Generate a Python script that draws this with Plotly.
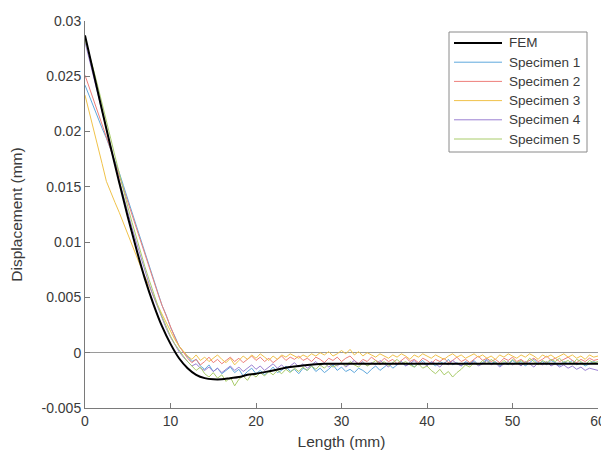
import plotly.graph_objects as go

# ---------------- data ----------------
length_mm = [
    0.0, 0.5, 1.0, 1.5, 2.0, 2.5, 3.0, 3.5, 4.0, 4.5,
    5.0, 5.5, 6.0, 6.5, 7.0, 7.5, 8.0, 8.5, 9.0, 9.5,
    10.0, 10.5, 11.0, 11.5, 12.0, 12.5, 13.0, 13.5, 14.0, 14.5,
    15.0, 15.5, 16.0, 16.5, 17.0, 17.5, 18.0, 18.5, 19.0, 19.5,
    20.0, 20.5, 21.0, 21.5, 22.0, 22.5, 23.0, 23.5, 24.0, 24.5,
    25.0, 25.5, 26.0, 26.5, 27.0, 27.5, 28.0, 28.5, 29.0, 29.5,
    30.0, 30.5, 31.0, 31.5, 32.0, 32.5, 33.0, 33.5, 34.0, 34.5,
    35.0, 35.5, 36.0, 36.5, 37.0, 37.5, 38.0, 38.5, 39.0, 39.5,
    40.0, 40.5, 41.0, 41.5, 42.0, 42.5, 43.0, 43.5, 44.0, 44.5,
    45.0, 45.5, 46.0, 46.5, 47.0, 47.5, 48.0, 48.5, 49.0, 49.5,
    50.0, 50.5, 51.0, 51.5, 52.0, 52.5, 53.0, 53.5, 54.0, 54.5,
    55.0, 55.5, 56.0, 56.5, 57.0, 57.5, 58.0, 58.5, 59.0, 59.5,
    60.0,
]

fem_x = [0, 1, 2, 3, 4, 5, 6, 7, 8, 9, 10, 11, 12, 13, 14, 15, 16, 17, 18, 19,
         20, 22, 24, 26, 28, 30, 35, 40, 45, 50, 55, 60]
fem_y = [.0287, .0253, .0219, .0186, .0154, .0123, .0094, .0067, .0044, .0024,
         .0008, -.0005, -.0014, -.0020, -.0023, -.0024, -.0024, -.0023, -.0022, -.0020,
         -.0019, -.0016, -.0013, -.0011, -.0010, -.0010, -.0010, -.0010, -.0010, -.0010,
         -.0010, -.0010]

specimen_1 = [
    .0242, .0232, .0223, .0213, .0203, .0194, .0184, .0174, .0163, .0151,
    .0139, .0126, .0115, .0102, .0090, .0079, .0066, .0055, .0043, .0034,
    .0023, .0015, .0006, .0001, -.0004, -.0008, -.0006, -.0012, -.0015, -.0011,
    -.0017, -.0014, -.0019, -.0016, -.0013, -.0018, -.0015, -.0021, -.0017, -.0014,
    -.0019, -.0016, -.0020, -.0017, -.0013, -.0018, -.0016, -.0012, -.0017, -.0015,
    -.0019, -.0014, -.0016, -.0012, -.0017, -.0014, -.0018, -.0015, -.0011, -.0016,
    -.0013, -.0017, -.0015, -.0018, -.0014, -.0016, -.0019, -.0015, -.0012, -.0016,
    -.0013, -.0010, -.0014, -.0011, -.0008, -.0012, -.0009, -.0013, -.0010, -.0007,
    -.0011, -.0009, -.0012, -.0008, -.0010, -.0006, -.0011, -.0009, -.0012, -.0008,
    -.0010, -.0007, -.0011, -.0009, -.0006, -.0010, -.0008, -.0012, -.0009, -.0011,
    -.0007, -.0010, -.0008, -.0012, -.0009, -.0006, -.0010, -.0008, -.0011, -.0007,
    -.0009, -.0012, -.0008, -.0010, -.0007, -.0011, -.0009, -.0012, -.0010, -.0008,
    -.0010,
]

specimen_2 = [
    .0251, .0240, .0229, .0218, .0207, .0196, .0184, .0172, .0160, .0149,
    .0137, .0125, .0113, .0101, .0089, .0077, .0065, .0054, .0043, .0033,
    .0023, .0014, .0006, .0000, -.0005, -.0009, -.0006, -.0011, -.0008, -.0004,
    -.0009, -.0006, -.0010, -.0007, -.0004, -.0008, -.0005, -.0009, -.0006, -.0003,
    -.0007, -.0004, -.0008, -.0005, -.0009, -.0006, -.0003, -.0007, -.0004, -.0006,
    -.0003, -.0007, -.0005, -.0008, -.0004, -.0006, -.0009, -.0005, -.0007, -.0004,
    -.0008, -.0005, -.0003, -.0007, -.0010, -.0006, -.0008, -.0004, -.0007, -.0009,
    -.0005, -.0008, -.0006, -.0010, -.0007, -.0004, -.0008, -.0006, -.0009, -.0005,
    -.0007, -.0010, -.0006, -.0008, -.0005, -.0009, -.0007, -.0004, -.0008, -.0006,
    -.0009, -.0006, -.0003, -.0007, -.0005, -.0008, -.0006, -.0009, -.0005, -.0007,
    -.0004, -.0008, -.0006, -.0009, -.0007, -.0005, -.0008, -.0006, -.0003, -.0007,
    -.0005, -.0008, -.0006, -.0004, -.0007, -.0009, -.0006, -.0008, -.0005, -.0007,
    -.0006,
]

specimen_3 = [
    .0233, .0218, .0202, .0187, .0171, .0155, .0145, .0136, .0127, .0117,
    .0107, .0097, .0088, .0078, .0069, .0060, .0051, .0043, .0035, .0027,
    .0019, .0012, .0006, .0001, -.0003, -.0006, -.0002, -.0007, -.0004, -.0008,
    -.0005, -.0002, -.0006, -.0009, -.0005, -.0011, -.0007, -.0003, -.0006, -.0002,
    -.0005, -.0001, -.0004, -.0007, -.0003, -.0006, -.0002, -.0004, -.0001, -.0003,
    -.0005, -.0002, -.0004, -.0001, -.0003, .0000, -.0002, .0001, -.0003, -.0001,
    .0002, -.0001, .0003, -.0002, .0001, -.0003, .0000, -.0002, -.0004, -.0001,
    -.0003, -.0005, -.0002, -.0004, -.0001, -.0003, -.0006, -.0002, -.0004, -.0001,
    -.0003, -.0005, -.0002, -.0004, -.0006, -.0003, -.0001, -.0004, -.0002, -.0005,
    -.0003, -.0001, -.0004, -.0002, -.0005, -.0003, -.0006, -.0002, -.0004, -.0001,
    -.0003, -.0005, -.0002, -.0004, -.0001, -.0003, -.0006, -.0002, -.0004, -.0002,
    -.0005, -.0003, -.0001, -.0004, -.0002, -.0005, -.0003, -.0006, -.0002, -.0004,
    -.0003,
]

specimen_4 = [
    .0281, .0265, .0249, .0233, .0217, .0201, .0186, .0171, .0156, .0141,
    .0127, .0113, .0100, .0087, .0074, .0062, .0051, .0041, .0031, .0022,
    .0014, .0007, .0001, -.0004, -.0008, -.0012, -.0010, -.0014, -.0016, -.0013,
    -.0017, -.0014, -.0018, -.0015, -.0012, -.0016, -.0013, -.0017, -.0014, -.0011,
    -.0015, -.0012, -.0016, -.0013, -.0010, -.0014, -.0011, -.0015, -.0012, -.0009,
    -.0013, -.0010, -.0014, -.0011, -.0008, -.0012, -.0009, -.0013, -.0010, -.0012,
    -.0009, -.0013, -.0010, -.0007, -.0011, -.0008, -.0012, -.0009, -.0011, -.0007,
    -.0010, -.0013, -.0009, -.0011, -.0008, -.0012, -.0010, -.0007, -.0011, -.0009,
    -.0012, -.0008, -.0010, -.0013, -.0009, -.0011, -.0007, -.0010, -.0012, -.0009,
    -.0011, -.0008, -.0012, -.0010, -.0007, -.0011, -.0009, -.0013, -.0010, -.0008,
    -.0011, -.0009, -.0012, -.0008, -.0010, -.0013, -.0009, -.0011, -.0008, -.0012,
    -.0010, -.0013, -.0011, -.0014, -.0012, -.0015, -.0013, -.0016, -.0014, -.0015,
    -.0016,
]

specimen_5 = [
    .0283, .0270, .0256, .0241, .0226, .0210, .0194, .0178, .0162, .0147,
    .0132, .0118, .0104, .0091, .0078, .0066, .0054, .0043, .0033, .0024,
    .0015, .0008, .0002, -.0003, -.0008, -.0012, -.0016, -.0013, -.0019, -.0022,
    -.0018, -.0023, -.0020, -.0026, -.0022, -.0030, -.0024, -.0021, -.0025, -.0019,
    -.0022, -.0018, -.0021, -.0017, -.0020, -.0016, -.0019, -.0015, -.0018, -.0014,
    -.0017, -.0013, -.0016, -.0012, -.0015, -.0011, -.0014, -.0010, -.0013, -.0011,
    -.0009, -.0012, -.0008, -.0011, -.0013, -.0009, -.0012, -.0010, -.0007, -.0011,
    -.0008, -.0012, -.0009, -.0006, -.0010, -.0008, -.0011, -.0013, -.0010, -.0014,
    -.0012, -.0016, -.0019, -.0015, -.0020, -.0017, -.0022, -.0018, -.0015, -.0011,
    -.0013, -.0009, -.0011, -.0007, -.0010, -.0006, -.0009, -.0011, -.0007, -.0010,
    -.0006, -.0009, -.0007, -.0010, -.0005, -.0008, -.0011, -.0007, -.0009, -.0006,
    -.0008, -.0005, -.0009, -.0007, -.0010, -.0006, -.0008, -.0011, -.0007, -.0009,
    -.0008,
]

series_names = ["FEM", "Specimen 1", "Specimen 2", "Specimen 3", "Specimen 4", "Specimen 5"]
series_colors = ["#000000", "#5FA8DD", "#EE7F7A", "#F0C24A", "#9A7FD2", "#A9CC6A"]
series_widths = [2.0, 1.0, 1.0, 1.0, 1.0, 1.0]

x_ticks = [0, 10, 20, 30, 40, 50, 60]
y_ticks = [-0.005, 0, 0.005, 0.01, 0.015, 0.02, 0.025, 0.03]
y_tick_text = ["-0.005", "0", "0.005", "0.01", "0.015", "0.02", "0.025", "0.03"]

# ---------------- figure ----------------
# the page body has an 8px margin, so the figure is sized to fit inside the window
OX, OY = 8, 8
W, H = 601, 450
ML, MR, MT, MB = 77, 11, 13, 50
PW, PH = W - ML - MR, H - MT - MB

def px(xp):  # window pixel -> paper x
    return (xp - OX - ML) / PW

def py(yp):  # window pixel -> paper y
    return (OY + H - MB - yp) / PH

fig = go.Figure()

specimens = [specimen_1, specimen_2, specimen_3, specimen_4, specimen_5]
for i, ys in enumerate(specimens):
    fig.add_trace(go.Scatter(
        x=length_mm, y=ys, mode="lines", name=series_names[i + 1],
        line=dict(color=series_colors[i + 1], width=series_widths[i + 1]),
        showlegend=False,
    ))
fig.add_trace(go.Scatter(
    x=fem_x, y=fem_y, mode="lines", name=series_names[0], line_shape="spline",
    line=dict(color=series_colors[0], width=series_widths[0]), showlegend=False,
))

font_family = "Liberation Sans, Arial, sans-serif"
axis_col = "#7a7a7a"
text_col = "#3a3a3a"

fig.update_layout(
    width=W, height=H,
    margin=dict(l=ML, r=MR, t=MT, b=MB, autoexpand=False),
    paper_bgcolor="white", plot_bgcolor="white",
    font=dict(family=font_family, size=14, color=text_col),
    showlegend=False,
)
fig.update_xaxes(
    range=[0, 60], tickvals=x_ticks, ticktext=[str(v) for v in x_ticks],
    showline=True, linecolor=axis_col, linewidth=1, mirror=False,
    ticks="inside", ticklen=5, tickcolor=axis_col, showgrid=False, zeroline=False,
    tickfont=dict(size=14, color=text_col), automargin=False,
    title=dict(text="Length (mm)", font=dict(size=15.5, color=text_col), standoff=8),
)
fig.update_yaxes(
    range=[-0.005, 0.03], tickvals=y_ticks, ticktext=y_tick_text,
    showline=True, linecolor=axis_col, linewidth=1, mirror=False,
    ticks="inside", ticklen=5, tickcolor=axis_col, showgrid=False,
    zeroline=True, zerolinecolor="#9a9a9a", zerolinewidth=1,
    tickfont=dict(size=14, color=text_col), automargin=False,
    title=dict(text="Displacement (mm)", font=dict(size=15.5, color=text_col), standoff=18),
)

# legend box (drawn manually to match the MATLAB look)
box_l, box_r, box_t, box_b = 449, 587, 32, 152
fig.add_shape(type="rect", xref="paper", yref="paper",
              x0=px(box_l), x1=px(box_r), y0=py(box_b), y1=py(box_t),
              line=dict(color="#8a8a8a", width=1), fillcolor="white", layer="above")
row0, row_step = 43, 19.2
for i, name in enumerate(series_names):
    yy = row0 + i * row_step
    fig.add_shape(type="line", xref="paper", yref="paper",
                  x0=px(454), x1=px(502), y0=py(yy), y1=py(yy),
                  line=dict(color=series_colors[i], width=series_widths[i]), layer="above")
    fig.add_annotation(xref="paper", yref="paper", x=px(507), y=py(yy),
                       text=name, showarrow=False, xanchor="left", yanchor="middle",
                       font=dict(size=13.5, color=text_col, family=font_family))

fig.write_html("out.html")
